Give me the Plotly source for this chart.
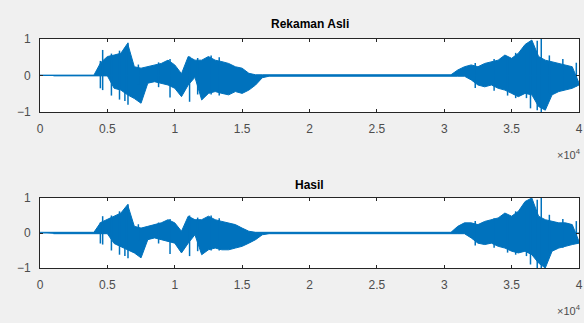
import plotly.graph_objects as go

# Sample positions of the envelope readings (every 500 samples)
samples = list(range(0, 40001, 500))

# "Rekaman Asli" envelope (upper / lower)
asli_upper = [0.01]*9 + [0.35, 0.52, 0.56, 0.61, 0.88, 0.24, 0.20, 0.24, 0.29, 0.33, 0.42, 0.29, 0.05,
              0.52, 0.42, 0.42, 0.52, 0.42, 0.38, 0.33, 0.24, 0.20, 0.06] + [0.02]*30 + \
             [0.15, 0.24, 0.29, 0.24, 0.33, 0.38, 0.42, 0.56, 0.47, 0.61, 0.85, 0.97, 0.52, 0.42, 0.38, 0.33, 0.29, 0.24]
asli_lower = [-0.01]*9 + [-0.35, -0.40, -0.53, -0.63, -0.76, -0.21, -0.17, -0.21, -0.26, -0.35, -0.58, -0.26, -0.05,
              -0.67, -0.49, -0.44, -0.49, -0.53, -0.44, -0.49, -0.40, -0.26, -0.06] + [-0.02]*30 + \
             [-0.12, -0.26, -0.31, -0.26, -0.35, -0.40, -0.49, -0.58, -0.49, -0.53, -0.85, -0.95, -0.53, -0.44, -0.40, -0.35, -0.26, -0.21]

# "Hasil" envelope (upper / lower)
hasil_upper = [0.02]*9 + [0.30, 0.38, 0.48, 0.57, 0.81, 0.19, 0.14, 0.19, 0.24, 0.29, 0.38, 0.29, 0.05,
               0.48, 0.38, 0.38, 0.48, 0.38, 0.33, 0.29, 0.24, 0.14, 0.05] + [0.02]*30 + \
              [0.19, 0.29, 0.29, 0.24, 0.33, 0.38, 0.43, 0.57, 0.48, 0.62, 0.90, 1.00, 0.48, 0.38, 0.33, 0.29, 0.29, 0.24]
hasil_lower = [-0.02]*9 + [-0.30, -0.38, -0.48, -0.57, -0.71, -0.19, -0.14, -0.19, -0.24, -0.29, -0.57, -0.29, -0.05,
               -0.62, -0.48, -0.43, -0.48, -0.48, -0.43, -0.38, -0.29, -0.19, -0.05] + [-0.02]*30 + \
              [-0.14, -0.29, -0.33, -0.29, -0.38, -0.43, -0.52, -0.57, -0.52, -0.62, -0.86, -1.00, -0.52, -0.43, -0.38, -0.33, -0.29, -0.24]

# Individual peaks visible above the envelope (sample, max, min)
asli_spike_x = [4480, 4650, 5300, 5900, 6300, 6530, 7300, 8800, 9650, 11100, 11700, 12700, 13300,
                32300, 33700, 34700, 35300, 36100, 36400, 36900, 37200, 37800, 38800, 39800]
asli_spike_hi = [0.40, 0.70, 0.60, 0.68, 0.75, 0.90, 0.30, 0.36, 0.45, 0.52, 0.48, 0.55, 0.50,
                 0.34, 0.45, 0.50, 0.62, 0.70, 0.90, 0.95, 1.00, 0.55, 0.45, 0.35]
asli_spike_lo = [-0.35, -0.40, -0.55, -0.66, -0.70, -0.80, -0.25, -0.32, -0.60, -0.72, -0.52, -0.52, -0.55,
                 -0.34, -0.42, -0.55, -0.62, -0.62, -0.90, -0.95, -1.00, -0.50, -0.42, -0.30]
hasil_spike_x = [4480, 4650, 5300, 5900, 6300, 6530, 7300, 8800, 9650, 11100, 11700, 12700, 13300,
                 32300, 33700, 34700, 35300, 36100, 36400, 36900, 37200, 37800, 38800, 39800]
hasil_spike_hi = [0.30, 0.48, 0.50, 0.62, 0.68, 0.82, 0.25, 0.30, 0.40, 0.50, 0.44, 0.50, 0.42,
                  0.34, 0.42, 0.50, 0.62, 0.70, 0.90, 0.95, 1.00, 0.52, 0.40, 0.34]
hasil_spike_lo = [-0.30, -0.33, -0.50, -0.62, -0.66, -0.72, -0.22, -0.30, -0.60, -0.66, -0.52, -0.50, -0.50,
                  -0.36, -0.42, -0.56, -0.62, -0.66, -0.90, -1.00, -1.00, -0.55, -0.42, -0.30]

x_tick_vals = [0, 5000, 10000, 15000, 20000, 25000, 30000, 35000, 40000]
x_tick_text = ["0", "0.5", "1", "1.5", "2", "2.5", "3", "3.5", "4"]
y_tick_vals = [-1, 0, 1]
titles = ["Rekaman Asli", "Hasil"]

BLUE = "#0072BD"
fig = go.Figure()


def add_wave(xa, ya, up, lo, sx, shi, slo):
    fig.add_trace(go.Scatter(x=samples + samples[::-1], y=up + lo[::-1], fill="toself",
                             fillcolor=BLUE, line=dict(color=BLUE, width=1),
                             mode="lines", xaxis=xa, yaxis=ya, hoverinfo="skip", showlegend=False))
    xs, ys = [], []
    for x, h, l in zip(sx, shi, slo):
        xs += [x, x, None]
        ys += [l, h, None]
    fig.add_trace(go.Scatter(x=xs, y=ys, mode="lines", line=dict(color=BLUE, width=1.5),
                             xaxis=xa, yaxis=ya, hoverinfo="skip", showlegend=False))
    fig.add_trace(go.Scatter(x=[0, 40000], y=[0, 0], mode="lines", line=dict(color=BLUE, width=1),
                             xaxis=xa, yaxis=ya, hoverinfo="skip", showlegend=False))


add_wave("x", "y", asli_upper, asli_lower, asli_spike_x, asli_spike_hi, asli_spike_lo)
add_wave("x2", "y2", hasil_upper, hasil_lower, hasil_spike_x, hasil_spike_hi, hasil_spike_lo)

W, H = 584, 323
xdom = [40 / W, 579 / W]
ydom1 = [(H - 112) / H, (H - 39) / H]
ydom2 = [(H - 268) / H, (H - 198) / H]

tickfont = dict(family="Liberation Sans, Arial, sans-serif", size=12, color="#4d4d4d")
axis_common = dict(showgrid=False, zeroline=False, showline=True, linecolor="#262626", linewidth=1,
                   mirror="ticks", ticks="inside", ticklen=3, tickcolor="#262626", tickfont=tickfont)

fig.update_layout(
    autosize=True, margin=dict(l=0, r=0, t=0, b=0, autoexpand=False),
    paper_bgcolor="#f0f0f0", plot_bgcolor="white",
    xaxis=dict(domain=xdom, range=[0, 40000], tickvals=x_tick_vals, ticktext=x_tick_text,
               anchor="y", ticklabelstandoff=6, **axis_common),
    yaxis=dict(domain=ydom1, range=[-1, 1], tickvals=y_tick_vals, anchor="x",
               ticklabelstandoff=6, **axis_common),
    xaxis2=dict(domain=xdom, range=[0, 40000], tickvals=x_tick_vals, ticktext=x_tick_text,
                anchor="y2", ticklabelstandoff=6, **axis_common),
    yaxis2=dict(domain=ydom2, range=[-1, 1], tickvals=y_tick_vals, anchor="x2",
                ticklabelstandoff=6, **axis_common),
)

title_font = dict(family="Liberation Sans, Arial, sans-serif", size=12, color="black")
for t, ytop, ys in zip(titles, [ydom1[1], ydom2[1]], [6, 4]):
    fig.add_annotation(text="<b>" + t + "</b>", x=0.5 * (xdom[0] + xdom[1]), y=ytop, xref="paper",
                       yref="paper", yanchor="bottom", showarrow=False, yshift=ys, font=title_font)
for yb in [ydom1[0], ydom2[0]]:
    fig.add_annotation(text="×10<sup>4</sup>", x=xdom[1], y=yb, xref="paper", yref="paper",
                       xanchor="right", yanchor="top", yshift=-33, xshift=4, showarrow=False,
                       font=dict(family="Liberation Sans, Arial, sans-serif", size=11, color="#4d4d4d"))

fig.write_html("out.html", config={"displayModeBar": False, "responsive": True},
               default_width="100vw", default_height="100vh",
               post_script="document.body.style.margin='0';document.body.style.overflow='hidden';"
                           "Plotly.Plots.resize(document.getElementById('{plot_id}'));")
